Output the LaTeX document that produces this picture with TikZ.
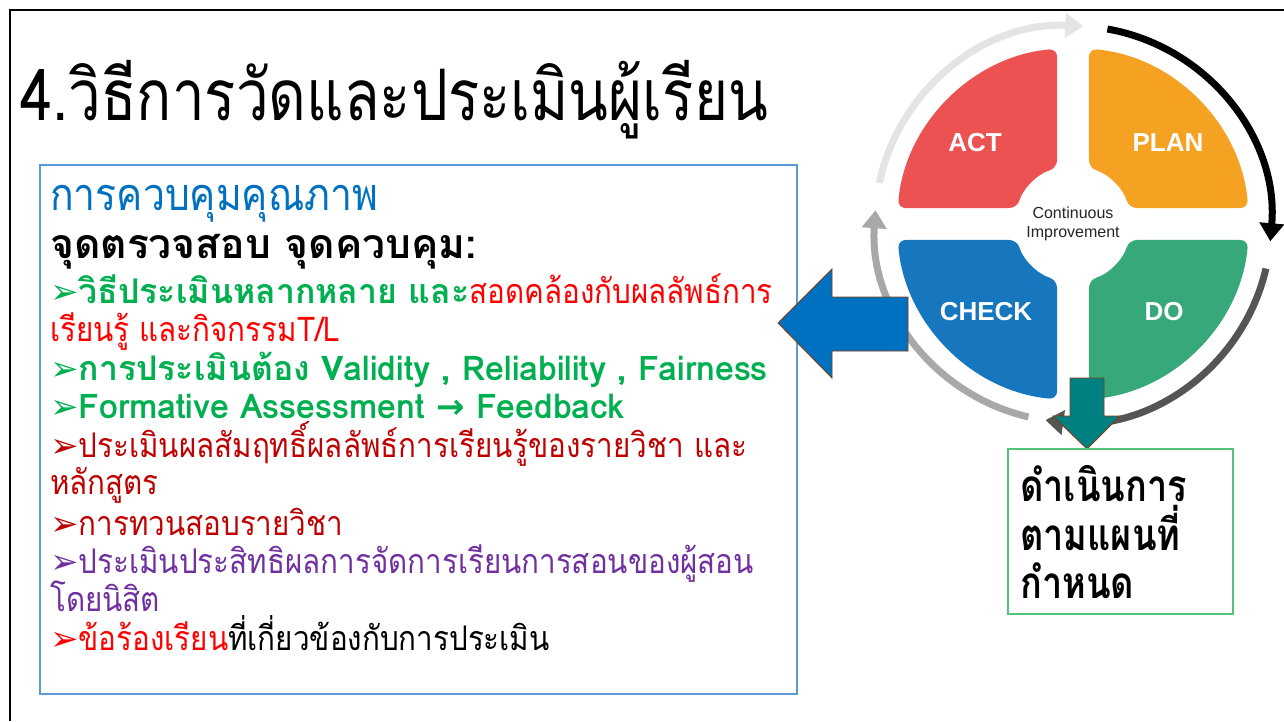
\documentclass[tikz,border=0pt]{standalone}
\usepackage{fontspec}
\setmainfont{Liberation Sans}
\newfontfamily\thaifont[Script=Thai,FakeStretch=0.87,BoldFeatures={FakeStretch=0.995}]{Loma}
\newfontfamily\narrowfont[Script=Thai,FakeStretch=0.82]{Loma}
\newfontfamily\dingfont{DejaVu Sans}
\usetikzlibrary{calc,arrows.meta}

\definecolor{headblue}{RGB}{0,112,192}
\definecolor{okgreen}{RGB}{0,176,80}
\definecolor{darkred}{RGB}{192,0,0}
\definecolor{purp}{RGB}{112,48,160}
\definecolor{boxblue}{RGB}{91,155,213}
\definecolor{boxgreen}{RGB}{80,196,120}
\definecolor{tealfill}{RGB}{0,128,128}
\definecolor{rim}{RGB}{132,60,12}
\definecolor{actc}{RGB}{236,82,82}
\definecolor{planc}{RGB}{245,162,34}
\definecolor{checkc}{RGB}{22,118,190}
\definecolor{doc}{RGB}{54,168,122}
\definecolor{ringlight}{RGB}{228,228,228}
\definecolor{ringmid}{RGB}{168,168,168}
\definecolor{ringdark}{RGB}{85,85,85}

\newcommand{\bul}{{\dingfont\char"27A2}}

\tikzset{
  txt/.style={anchor=base west, inner sep=0pt, font=\thaifont\fontsize{34}{38}\selectfont},
  bigtxt/.style={anchor=base west, inner sep=0pt, font=\narrowfont\bfseries\fontsize{44}{48}\selectfont},
  ring/.style={line width=7pt, -{Triangle[width=24pt,length=18pt]}},
  quad/.style={rounded corners=8pt},
  qlabel/.style={text=white, font=\bfseries\fontsize{26}{28}\selectfont},
  blockarrow/.style={draw=rim, line width=0.9pt}
}

\begin{document}
\begin{tikzpicture}[x=1pt,y=-1pt]
\useasboundingbox (0,0) rectangle (1284,721);
\fill[white] (0,0) rectangle (1284,721);
\draw[line width=2.5pt] (10,721) -- (10,10) -- (1284,10);

% title
\node[txt, font=\narrowfont\fontsize{71}{76}\selectfont] (title) at (20,120) {4.วิธีการวัดและประเมินผู้เรียน};

% text box
\draw[boxblue, line width=1.2pt] (40,165) rectangle (797,694);
\node[txt, font=\thaifont\fontsize{45}{48}\selectfont, headblue] (head) at (50,210) {การควบคุมคุณภาพ};
\node[txt, font=\thaifont\bfseries\fontsize{41}{44}\selectfont] (sub) at (50,258) {จุดตรวจสอบ จุดควบคุม:};
\node[txt, okgreen] (l1) at (50,303) {\bul\bfseries วิธีประเมินหลากหลาย และ\mdseries\color{red}สอดคล้องกับผลลัพธ์การ};
\node[txt, red] (l2) at (50,341.6) {เรียนรู้ และกิจกรรมT/L};
\node[txt, okgreen] (l3) at (50,380) {\bul\bfseries การประเมินต้อง Validity , Reliability , Fairness};
\node[txt, okgreen] (l4) at (50,418.8) {\bul\bfseries Formative Assessment {\dingfont→} Feedback};
\node[txt, darkred] (l5) at (50,457) {\bul ประเมินผลสัมฤทธิ์ผลลัพธ์การเรียนรู้ของรายวิชา และ};
\node[txt, darkred] (l6) at (50,494.5) {หลักสูตร};
\node[txt, darkred] (l7) at (50,535) {\bul การทวนสอบรายวิชา};
\node[txt, purp] (l8) at (50,573) {\bul ประเมินประสิทธิผลการจัดการเรียนการสอนของผู้สอน};
\node[txt, purp] (l9) at (50,611.8) {โดยนิสิต};
\node[txt, red] (l10) at (50,650.4) {\bul ข้อร้องเรียน\color{black}ที่เกี่ยวข้องกับการประเมิน};

% PDCA wheel
\coordinate (ctr) at (1073,224);
\draw[ring, ringlight] ($(ctr)+(192:198)$) arc[start angle=192, end angle=273, radius=198];
\draw[ring, black] ($(ctr)+(-80:198)$) arc[start angle=-80, end angle=5, radius=198];
\draw[ring, ringdark] ($(ctr)+(13:198)$) arc[start angle=13, end angle=98, radius=198];
\draw[ring, ringmid] ($(ctr)+(103:198)$) arc[start angle=103, end angle=184, radius=198];
\foreach \a/\col/\lab/\pos in {-90/planc/PLAN/{1168,143}, 0/doc/DO/{1164,312},
                              90/checkc/CHECK/{986,312}, 180/actc/ACT/{975,143}}{
  \fill[quad, \col] ($(ctr)+(\a+5.2:176)$) arc[start angle=\a+5.2, end angle=\a+84.8, radius=176]
    -- ($(ctr)+(\a+74:58)$) arc[start angle=\a+74, end angle=\a+16, radius=58] -- cycle;
  \node[qlabel] (q\lab) at (\pos) {\lab};
}
\node[align=center, text=black!85, font=\fontsize{16}{19}\selectfont] (ci) at (ctr) {Continuous\\Improvement};

% block arrows
\filldraw[blockarrow, fill=headblue] (778,323) -- (832,269) -- (832,297) -- (908,297)
  -- (908,351) -- (832,351) -- (832,378) -- cycle;
\filldraw[blockarrow, fill=tealfill] (1070,378) -- (1104,378) -- (1104,416) -- (1120,416)
  -- (1087,449) -- (1053,416) -- (1070,416) -- cycle;

% result box
\draw[boxgreen, line width=1.2pt] (1008,449) rectangle (1233,614);
\node[bigtxt] (r1) at (1020,501) {ดำเนินการ};
\node[bigtxt] (r2) at (1020,550) {ตามแผนที่};
\node[bigtxt] (r3) at (1020,598) {กำหนด};
\end{tikzpicture}
\end{document}
